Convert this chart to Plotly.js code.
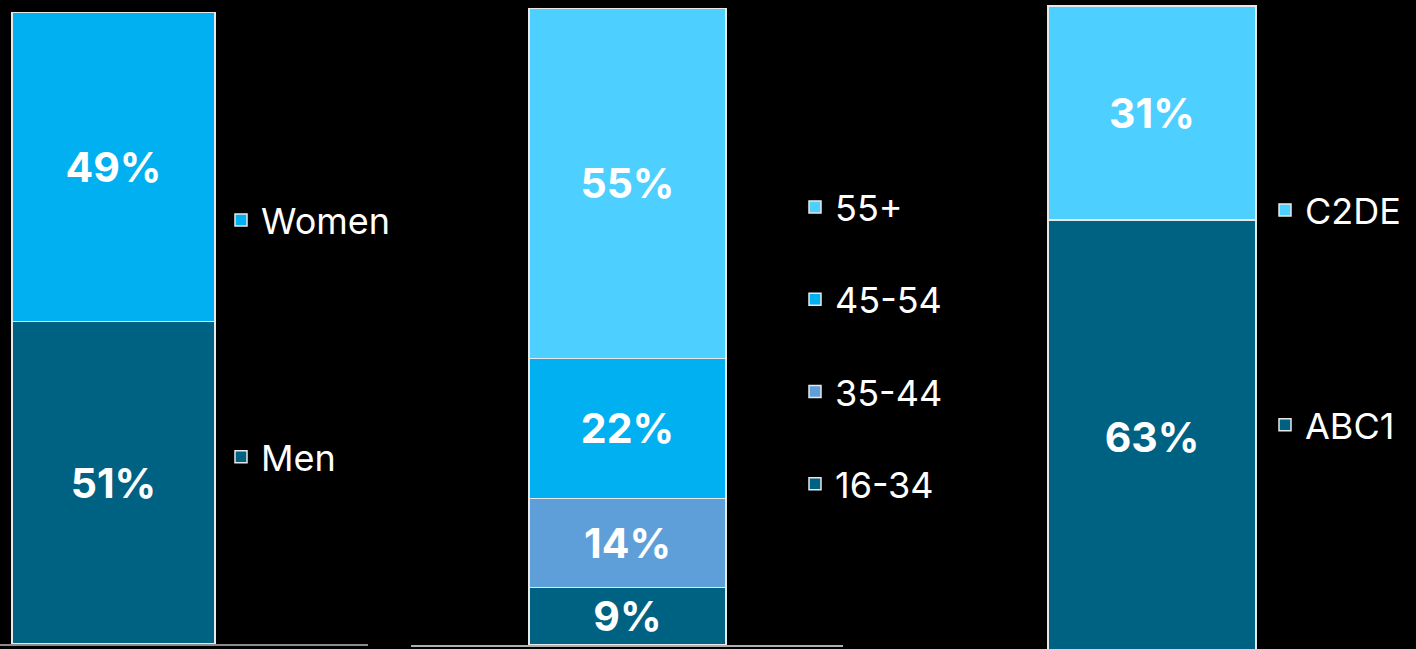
<!DOCTYPE html>
<html>
<head>
<meta charset="utf-8">
<script src="https://cdn.plot.ly/plotly-3.0.1.min.js"></script>
<style>html,body{margin:0;padding:0;background:#000;}#chart{width:1416px;height:649px;}</style>
</head>
<body>
<div id="chart"></div>
<script>
// Data
const genderSeries = ['Men', 'Women'];
const genderValues = [51, 49];
const ageSeries = ['16-34', '35-44', '45-54', '55+'];
const ageValues = [9, 14, 22, 55];
const classSeries = ['ABC1', 'C2DE'];
const classValues = [63, 31];

const genderColors = ['#006283', '#00B0F0'];
const ageColors = ['#006283', '#5E9FDA', '#00B0F0', '#4DCFFF'];
const classColors = ['#006283', '#4DCFFF'];

const FONT = 'Inter, "Open Sans", sans-serif';

function makeTraces(names, values, colors, n) {
  const sx = n === 1 ? '' : String(n);
  return names.map((name, i) => ({
    type: 'bar',
    name: name,
    x: [0],
    y: [values[i]],
    width: [1],
    xaxis: 'x' + sx,
    yaxis: 'y' + sx,
    legend: 'legend' + sx,
    legendgroup: 'g' + n + '_' + i,
    legendrank: 100 - i,
    text: [values[i] + '%'],
    textposition: 'inside',
    insidetextanchor: 'middle',
    textangle: 0,
    constraintext: 'none',
    textfont: {family: FONT, size: 41, color: '#ffffff', weight: 700},
    marker: {color: colors[i], line: {color: '#e8e8e8', width: 1.5}},
    hoverinfo: 'skip'
  }));
}

const traces = [
  ...makeTraces(genderSeries, genderValues, genderColors, 1),
  ...makeTraces(ageSeries, ageValues, ageColors, 2),
  ...makeTraces(classSeries, classValues, classColors, 3)
];

const hiddenY = {visible: false, showgrid: false, zeroline: false, fixedrange: true};
const baseX = {showgrid: false, zeroline: false, showticklabels: false, ticks: '', fixedrange: true};
const legendBase = {
  font: {family: FONT, size: 36, color: '#ffffff'},
  bgcolor: 'rgba(0,0,0,0)',
  traceorder: 'grouped',
  xanchor: 'left', yanchor: 'top',
  itemclick: false, itemdoubleclick: false
};

const layout = {
  width: 1416, height: 649,
  margin: {l: 0, r: 0, t: 0, b: 0, pad: 0},
  paper_bgcolor: '#000000',
  plot_bgcolor: 'rgba(0,0,0,0)',
  barmode: 'stack',
  showlegend: true,
  xaxis: Object.assign({}, baseX, {domain: [0, 368/1416], range: [-0.559, 1.254], showline: true, linecolor: '#8c8c8c', linewidth: 1.5, anchor: 'y'}),
  yaxis: Object.assign({}, hiddenY, {domain: [5/649, 637/649], range: [0, 100], anchor: 'x'}),
  xaxis2: Object.assign({}, baseX, {domain: [411/1416, 843/1416], range: [-1.099, 1.094], showline: true, linecolor: '#b0b0b0', linewidth: 1.5, anchor: 'y2'}),
  yaxis2: Object.assign({}, hiddenY, {domain: [4/649, 641/649], range: [0, 100], anchor: 'x2'}),
  xaxis3: Object.assign({}, baseX, {domain: [1000/1416, 1300/1416], range: [-0.7308, 0.7115], showline: false, anchor: 'y3'}),
  yaxis3: Object.assign({}, hiddenY, {domain: [0, 1], range: [0.85, 94.87], anchor: 'x3'}),
  legend: Object.assign({}, legendBase, {x: 221/1416, y: 1 - 190/649, tracegroupgap: 187}),
  legend2: Object.assign({}, legendBase, {x: 795/1416, y: 1 - 177/649, tracegroupgap: 42.5}),
  legend3: Object.assign({}, legendBase, {x: 1265/1416, y: 1 - 180/649, tracegroupgap: 165})
};

Plotly.newPlot('chart', traces, layout, {staticPlot: true, displayModeBar: false});
</script>
</body>
</html>
